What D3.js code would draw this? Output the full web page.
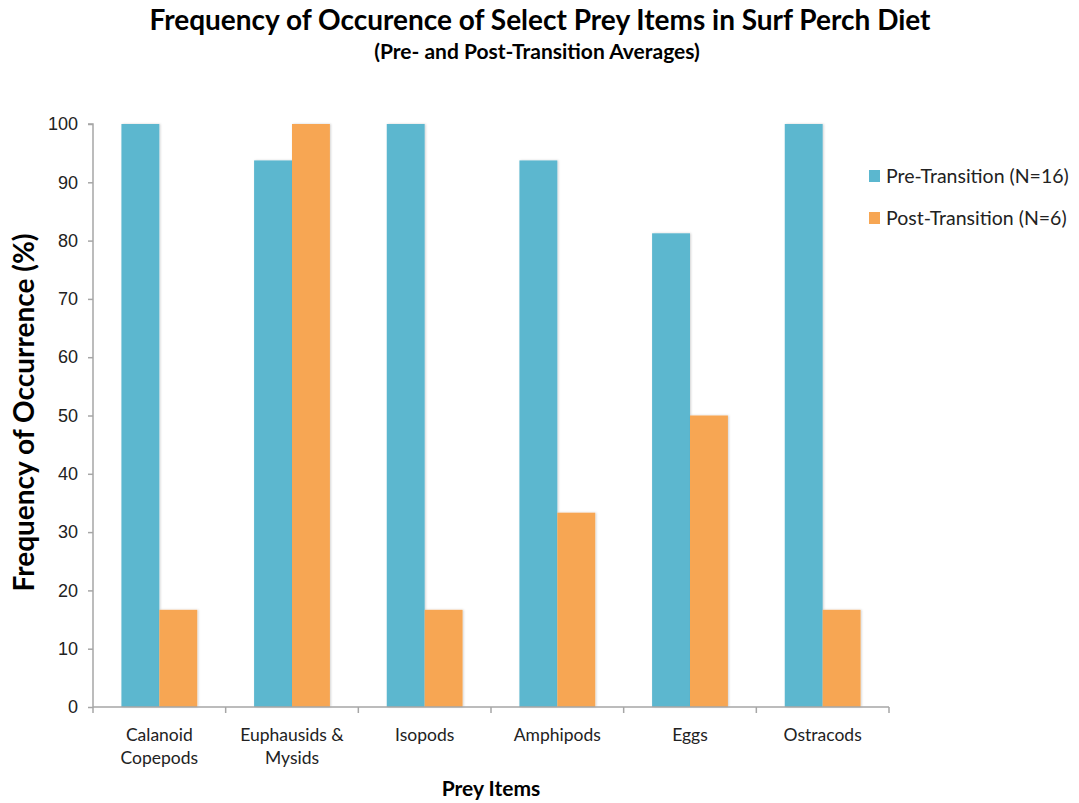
<!DOCTYPE html>
<html>
<head>
<meta charset="utf-8">
<script src="https://cdn.jsdelivr.net/npm/d3@7/dist/d3.min.js"></script>
<style>
  body { margin: 0; background: #fff; }
  svg { font-family: Lato, "Open Sans", sans-serif; }
</style>
</head>
<body>
<svg id="chart" width="1079" height="803"></svg>
<script>
// Prey categories (line breaks marked with \n)
const categories = ["Calanoid\nCopepods", "Euphausids &\nMysids", "Isopods", "Amphipods", "Eggs", "Ostracods"];
const seriesNames = ["Pre-Transition (N=16)", "Post-Transition (N=6)"];
const preValues = [100, 93.75, 100, 93.75, 81.25, 100];
const postValues = [16.67, 100, 16.67, 33.33, 50, 16.67];
const yTicks = [0, 10, 20, 30, 40, 50, 60, 70, 80, 90, 100];
const colors = ["#5bb7cf", "#f7a653"];

const svg = d3.select("#chart");
const plotLeft = 93, plotRight = 889, plotTop = 124, plotBottom = 707;

const x = d3.scaleBand().domain(categories).range([plotLeft, plotRight]).paddingInner(0).paddingOuter(0);
const inner = d3.scaleBand().domain([0, 1]).range([0, x.bandwidth()]).paddingInner(0).paddingOuter(0.75);
const y = d3.scaleLinear().domain([0, 100]).range([plotBottom, plotTop]);

const defs = svg.append("defs");
const f = defs.append("filter").attr("id", "shadow").attr("x", "-20%").attr("y", "-5%").attr("width", "140%").attr("height", "110%");
f.append("feDropShadow").attr("dx", 1).attr("dy", 0).attr("stdDeviation", 1).attr("flood-color", "#000").attr("flood-opacity", 0.18);

// Bars
const data = categories.map((c, i) => ({ cat: c, vals: [preValues[i], postValues[i]] }));
const groups = svg.append("g").selectAll("g").data(data).join("g")
  .attr("transform", d => `translate(${x(d.cat)},0)`);
groups.selectAll("rect").data(d => d.vals.map((v, s) => ({ v, s }))).join("rect")
  .attr("x", d => inner(d.s))
  .attr("width", inner.bandwidth())
  .attr("y", d => y(d.v))
  .attr("height", d => y(0) - y(d.v))
  .attr("fill", d => colors[d.s])
  .attr("filter", "url(#shadow)");

// Y axis
const yAxis = svg.append("g").attr("transform", `translate(${plotLeft},0)`)
  .call(d3.axisLeft(y).tickValues(yTicks).tickSize(5).tickPadding(10));
yAxis.select(".domain").attr("stroke", "#a6a6a6").attr("stroke-width", 1.5).attr("d", `M-5,${plotTop}H0V${plotBottom}`);
yAxis.selectAll(".tick line").attr("stroke", "#a6a6a6").attr("stroke-width", 1.5);
yAxis.selectAll(".tick text").attr("font-size", 18).attr("fill", "#222");

// X axis with boundary ticks
const xg = svg.append("g");
xg.append("line").attr("x1", plotLeft).attr("x2", plotRight).attr("y1", plotBottom).attr("y2", plotBottom)
  .attr("stroke", "#a6a6a6").attr("stroke-width", 1.5);
const bounds = categories.map(c => x(c)).concat([plotRight]);
xg.selectAll("line.tk").data(bounds).join("line").attr("class", "tk")
  .attr("x1", d => d).attr("x2", d => d).attr("y1", plotBottom).attr("y2", plotBottom + 6)
  .attr("stroke", "#a6a6a6").attr("stroke-width", 1.5);
const lbl = xg.selectAll("text.cat").data(categories).join("text").attr("class", "cat")
  .attr("text-anchor", "middle").attr("font-size", 17.5).attr("fill", "#222")
  .attr("transform", d => `translate(${x(d) + x.bandwidth() / 2},${plotBottom + 34})`);
lbl.selectAll("tspan").data(d => d.split("\n")).join("tspan")
  .attr("x", 0).attr("dy", (d, i) => i === 0 ? 0 : 23).text(d => d);

// Titles
svg.append("text").attr("x", 540).attr("y", 30).attr("text-anchor", "middle")
  .attr("font-size", 28).attr("font-weight", "bold").attr("fill", "#000")
  .text("Frequency of Occurence of Select Prey Items in Surf Perch Diet");
svg.append("text").attr("x", 537).attr("y", 59).attr("text-anchor", "middle")
  .attr("font-size", 21).attr("font-weight", "bold").attr("fill", "#000")
  .text("(Pre- and Post-Transition Averages)");
svg.append("text").attr("transform", `translate(34,${(plotTop + plotBottom) / 2 - 3}) rotate(-90)`)
  .attr("text-anchor", "middle").attr("font-size", 28).attr("font-weight", "bold").attr("fill", "#000")
  .text("Frequency of Occurrence (%)");
svg.append("text").attr("x", 491).attr("y", 796).attr("text-anchor", "middle")
  .attr("font-size", 21).attr("font-weight", "bold").attr("fill", "#000")
  .text("Prey Items");

// Legend
const leg = svg.append("g").selectAll("g").data(seriesNames).join("g")
  .attr("transform", (d, i) => `translate(869,${170 + i * 42})`);
leg.append("rect").attr("width", 11).attr("height", 12).attr("fill", (d, i) => colors[i]);
leg.append("text").attr("x", 17).attr("y", 13).attr("font-size", 19.5).attr("fill", "#222").text(d => d);
</script>
</body>
</html>
